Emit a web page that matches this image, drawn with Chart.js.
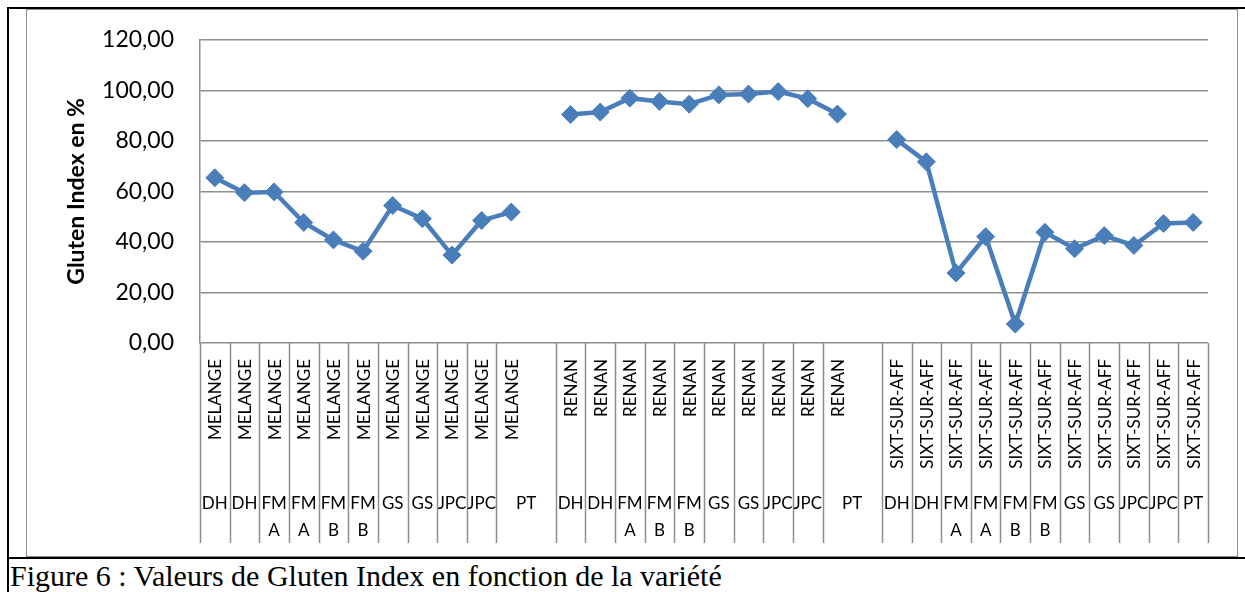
<!DOCTYPE html>
<html lang="fr">
<head>
<meta charset="utf-8">
<title>Gluten Index</title>
<script src="https://cdn.jsdelivr.net/npm/chart.js@4/dist/chart.umd.min.js"></script>
<style>
  html, body { margin: 0; padding: 0; background: #fff; }
  #page { position: relative; width: 1245px; height: 592px; overflow: hidden; }
  .black { position: absolute; background: #000; }
  #chart-box {
    position: absolute; left: 26px; top: 9px; width: 1210px; height: 546px;
    border: 1.5px solid #8c8c8c;
  }
  #caption {
    position: absolute; left: 10px; top: 561px; line-height: 1;
    font-family: "Liberation Serif", "Times New Roman", serif; font-size: 30px; color: #000;
    white-space: nowrap;
  }
  canvas { position: absolute; left: 0; top: 0; }
</style>
</head>
<body>
<div id="page">
  <div class="black" style="left:7px;top:7px;width:1238px;height:2px"></div>
  <div class="black" style="left:7px;top:7px;width:2px;height:585px"></div>
  <div class="black" style="left:7px;top:557px;width:1238px;height:2px"></div>
  <div id="chart-box"></div>
  <div id="caption">Figure 6 : Valeurs de Gluten Index en fonction de la variété</div>
  <canvas id="chart" width="1245" height="592"></canvas>
</div>

<script>
const MELANGE_SITES = ["DH", "DH", "FM A", "FM A", "FM B", "FM B", "GS", "GS", "JPC", "JPC", "PT"];
const RENAN_SITES = ["DH", "DH", "FM A", "FM B", "FM B", "GS", "GS", "JPC", "JPC", "PT"];
const SIXT_SITES = ["DH", "DH", "FM A", "FM A", "FM B", "FM B", "GS", "GS", "JPC", "JPC", "PT"];

const MELANGE_VALUES = [65.4, 59.5, 59.8, 47.7, 40.8, 36.3, 54.4, 49.2, 34.8, 48.5, 51.8];
const RENAN_VALUES = [90.4, 91.4, 96.9, 95.6, 94.5, 98.2, 98.5, 99.5, 96.7, 90.6];
const SIXT_VALUES = [80.5, 71.7, 27.7, 42.1, 7.5, 43.8, 37.3, 42.5, 38.6, 47.3, 47.7];

const Y_TICKS = [0, 20, 40, 60, 80, 100, 120];

const LINE_COLOR = "#4a7ebb";
const GRID_COLOR = "#8e8e8e";
const FONT = "Lato, 'Open Sans', sans-serif";

/* ---------- build categories (empty slot between varieties) ---------- */

const groups = [
  { name: "MELANGE", sites: MELANGE_SITES, values: MELANGE_VALUES },
  { name: "RENAN", sites: RENAN_SITES, values: RENAN_VALUES },
  { name: "SIXT-SUR-AFF", sites: SIXT_SITES, values: SIXT_VALUES },
];

const varieties = [];
const sites = [];
const gluten = [];
groups.forEach((g, gi) => {
  g.sites.forEach((s, i) => {
    varieties.push(g.name);
    sites.push(s);
    gluten.push(g.values[i]);
  });
  if (gi < groups.length - 1) {
    // blank row in the sheet: merged with the previous cell
    varieties.push(null);
    sites.push(null);
    gluten.push(null);
  }
});
const labels = varieties.map((v, i) => [v || "", sites[i] || ""]);

/* ---------- multi level category labels ---------- */

const categoryLabels = {
  id: "categoryLabels",
  afterDraw(chart) {
    const { ctx, chartArea } = chart;
    const x = chart.scales.x;
    const n = labels.length;
    const w = (x.getPixelForValue(1) - x.getPixelForValue(0));
    const top = chartArea.bottom;
    const bottom = top + 200;

    ctx.save();
    ctx.strokeStyle = GRID_COLOR;
    ctx.lineWidth = 1.5;
    for (let i = 0; i <= n; i++) {
      if (i < n && varieties[i] === null) continue; // merged cell, no separator
      const px = Math.round(x.getPixelForValue(i) - w / 2) + 0.5;
      ctx.beginPath();
      ctx.moveTo(px, top);
      ctx.lineTo(px, bottom);
      ctx.stroke();
    }

    ctx.fillStyle = "#000";
    for (let i = 0; i < n; i++) {
      if (varieties[i] === null) continue;
      const cx = x.getPixelForValue(i);

      // variety, rotated
      ctx.save();
      ctx.font = `17px ${FONT}`;
      ctx.translate(cx, top + 16);
      ctx.rotate(-Math.PI / 2);
      ctx.textAlign = "right";
      ctx.textBaseline = "middle";
      ctx.fillText(varieties[i], 0, 1);
      ctx.restore();

      // site, wrapped on two lines
      let sx = cx;
      if (i + 1 < n && varieties[i + 1] === null) sx = cx + w / 2;
      ctx.font = `17px ${FONT}`;
      ctx.textAlign = "center";
      ctx.textBaseline = "middle";
      sites[i].split(" ").forEach((part, li) => {
        ctx.fillText(part, sx, top + 161 + li * 27);
      });
    }
    ctx.restore();
  },
};

/* ---------- chart ---------- */

function formatTick(v) {
  return v.toFixed(2).replace(".", ",");
}

new Chart(document.getElementById("chart"), {
  type: "line",
  data: {
    labels,
    datasets: [
      {
        label: "Gluten Index",
        data: gluten,
        borderColor: LINE_COLOR,
        backgroundColor: LINE_COLOR,
        borderWidth: 4.5,
        tension: 0,
        spanGaps: false,
        pointStyle: "rectRot",
        pointRadius: 9,
        pointBorderWidth: 1,
        pointBackgroundColor: LINE_COLOR,
        pointBorderColor: LINE_COLOR,
      },
    ],
  },
  options: {
    responsive: false,
    animation: false,
    devicePixelRatio: 1,
    layout: { padding: { left: 30, right: 37, top: 38, bottom: 49 } },
    plugins: { legend: { display: false }, tooltip: { enabled: false } },
    scales: {
      x: {
        type: "category",
        offset: true,
        grid: { display: false },
        border: { display: false },
        ticks: { display: false },
        afterFit(scale) { scale.height = 200; },
      },
      y: {
        min: 0,
        max: 120,
        afterBuildTicks(scale) { scale.ticks = Y_TICKS.map((v) => ({ value: v })); },
        grid: { color: GRID_COLOR, lineWidth: 1.5, drawTicks: false },
        border: { color: GRID_COLOR, width: 1.5 },
        ticks: {
          padding: 26,
          color: "#000",
          font: { family: FONT, size: 23 },
          callback: (v) => formatTick(v),
        },
        title: {
          display: true,
          text: "Gluten Index en %",
          color: "#000",
          font: { family: FONT, size: 23, weight: "bold" },
          padding: { top: 33 },
        },
        afterFit(scale) { scale.width = 170; },
      },
    },
  },
  plugins: [categoryLabels],
});
</script>
</body>
</html>
